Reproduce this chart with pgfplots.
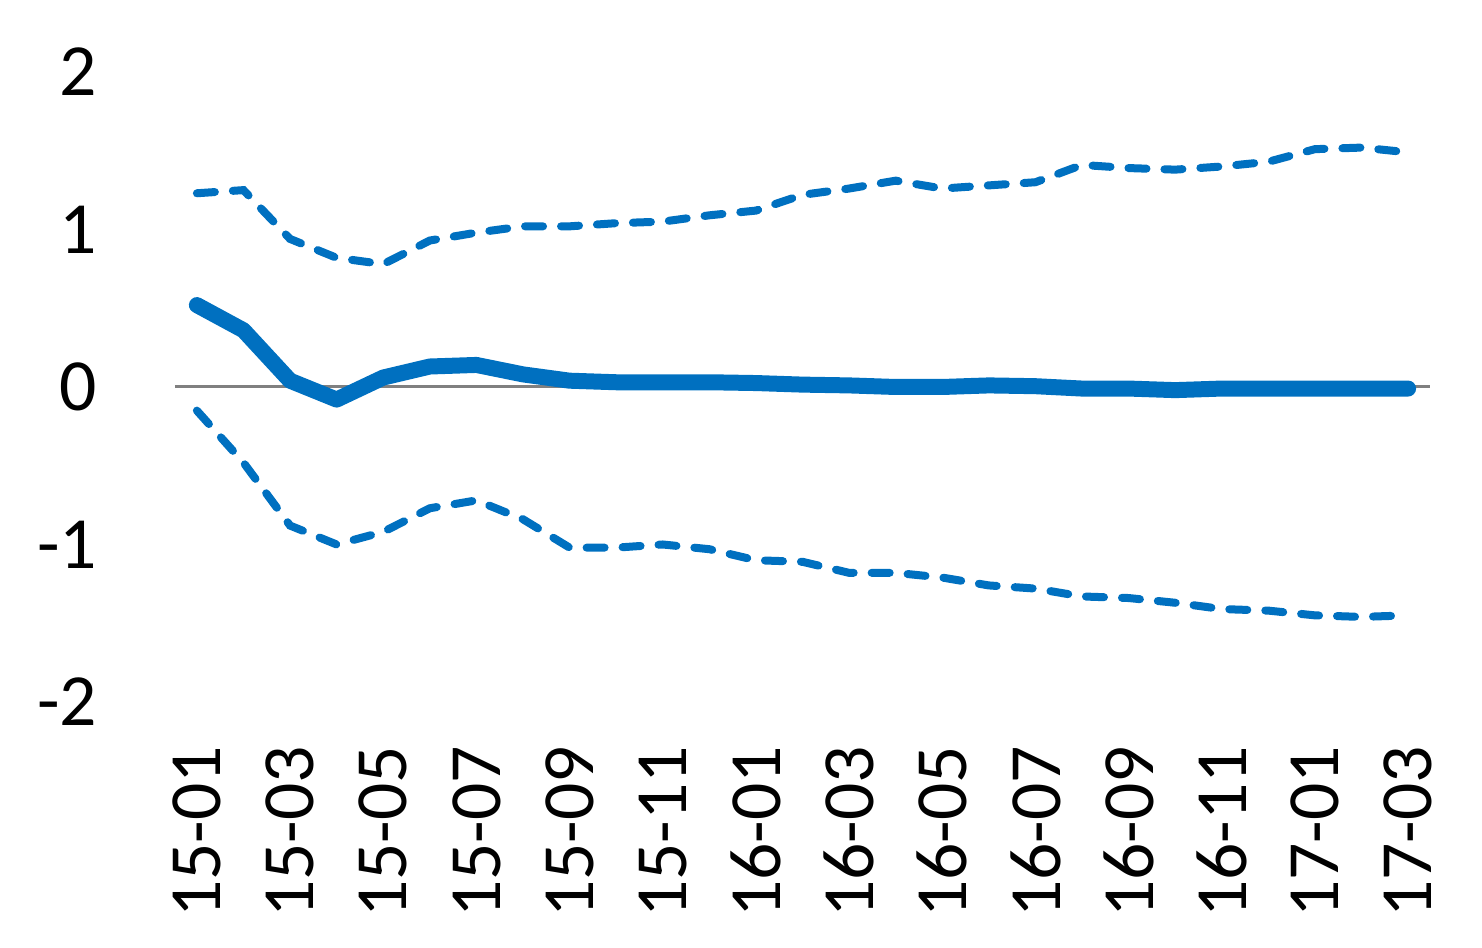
\documentclass[border=0pt]{standalone}
\usepackage{pgfplots}
\pgfplotsset{compat=1.18}
\usetikzlibrary{calc}
\usepackage{fontspec}
\setmainfont{Carlito}
\definecolor{cblue}{HTML}{0070C0}
\definecolor{zgray}{HTML}{808080}

\begin{document}
\begin{tikzpicture}
\begin{axis}[name=ax, scale only axis, width=313.75pt, height=157.5pt,
    xmin=-0.47, xmax=26.47, ymin=-2, ymax=2,
    axis line style={draw=none}, major tick length=0pt,
    ytick={-2,-1,0,1,2}, yticklabels={-2,-1,0,1,2},
    xtick={0,2,...,26},
    xticklabels={15-01,15-03,15-05,15-07,15-09,15-11,16-01,16-03,16-05,16-07,16-09,16-11,17-01,17-03},
    ticklabel style={font=\fontsize{18.4}{22}\selectfont},
    yticklabel style={xshift=-16pt},
    xticklabel style={rotate=90, anchor=east, xshift=-7.5pt},
    clip=false]
  \addplot[zgray, line width=0.75pt] coordinates {(-0.47,0) (26.47,0)};
  % upper band
  \addplot[cblue, line width=2pt, dash pattern=on 4.5pt off 4.5pt, line cap=round] coordinates {
    (0,1.23)(1,1.25)(2,0.94)(3,0.82)(4,0.78)(5,0.93)(6,0.98)(7,1.02)(8,1.02)(9,1.04)
    (10,1.05)(11,1.09)(12,1.12)(13,1.22)(14,1.26)(15,1.31)(16,1.26)(17,1.28)(18,1.30)
    (19,1.41)(20,1.39)(21,1.38)(22,1.40)(23,1.43)(24,1.51)(25,1.52)(26,1.49)};
  % lower band
  \addplot[cblue, line width=2pt, dash pattern=on 4.5pt off 4.5pt, line cap=round] coordinates {
    (0,-0.15)(1,-0.48)(2,-0.88)(3,-1.00)(4,-0.92)(5,-0.77)(6,-0.72)(7,-0.84)(8,-1.02)
    (9,-1.02)(10,-1.00)(11,-1.03)(12,-1.10)(13,-1.11)(14,-1.18)(15,-1.18)(16,-1.21)
    (17,-1.26)(18,-1.28)(19,-1.33)(20,-1.34)(21,-1.37)(22,-1.41)(23,-1.42)(24,-1.45)
    (25,-1.46)(26,-1.45)};
  % central estimate
  \addplot[cblue, line width=4pt, line cap=round, line join=round] coordinates {
    (0,0.52)(1,0.36)(2,0.04)(3,-0.08)(4,0.06)(5,0.13)(6,0.14)(7,0.08)(8,0.04)(9,0.03)
    (10,0.03)(11,0.03)(12,0.025)(13,0.015)(14,0.01)(15,0.0)(16,0.0)(17,0.01)(18,0.005)
    (19,-0.01)(20,-0.01)(21,-0.02)(22,-0.01)(23,-0.01)(24,-0.01)(25,-0.01)(26,-0.01)};
\end{axis}
\path (ax.south west) ++(-43.75pt,-61.5pt) rectangle ($(ax.north east)+(13pt,18pt)$);
\end{tikzpicture}
\end{document}
